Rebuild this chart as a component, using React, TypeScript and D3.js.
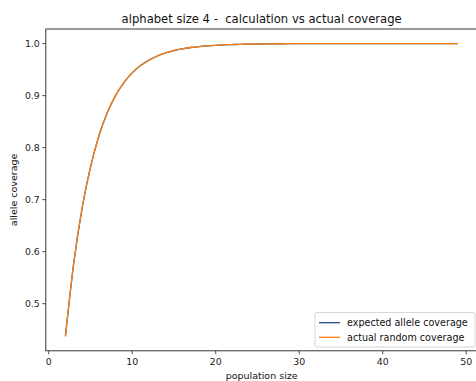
import React from "react";
import * as d3 from "d3";

// population sizes 2..49
const popSizes = [
  2, 3, 4, 5, 6, 7, 8, 9, 10, 11, 12, 13, 14, 15, 16, 17, 18, 19, 20, 21, 22, 23, 24, 25,
  26, 27, 28, 29, 30, 31, 32, 33, 34, 35, 36, 37, 38, 39, 40, 41, 42, 43, 44, 45, 46, 47, 48, 49,
];

const expectedCoverage = [
  0.4375, 0.5781, 0.6836, 0.7627, 0.822, 0.8665, 0.8999, 0.9249, 0.9437, 0.9578, 0.9683,
  0.9762, 0.9822, 0.9866, 0.99, 0.9925, 0.9944, 0.9958, 0.9968, 0.9976, 0.9982, 0.9987,
  0.999, 0.9992, 0.9994, 0.9996, 0.9997, 0.9998, 0.9998, 0.9999, 0.9999, 0.9999, 0.9999,
  1.0, 1.0, 1.0, 1.0, 1.0, 1.0, 1.0, 1.0, 1.0, 1.0, 1.0, 1.0, 1.0, 1.0, 1.0,
];

const actualCoverage = [
  0.437, 0.579, 0.684, 0.762, 0.822, 0.867, 0.9, 0.925, 0.944, 0.958, 0.968,
  0.976, 0.982, 0.987, 0.99, 0.9925, 0.9944, 0.9958, 0.9968, 0.9976, 0.9982, 0.9987,
  0.999, 0.9992, 0.9994, 0.9996, 0.9997, 0.9998, 0.9998, 0.9999, 0.9999, 0.9999, 0.9999,
  1.0, 1.0, 1.0, 1.0, 1.0, 1.0, 1.0, 1.0, 1.0, 1.0, 1.0, 1.0, 1.0, 1.0, 1.0,
];

const xTicks = [0, 10, 20, 30, 40, 50];
const yTicks = [0.5, 0.6, 0.7, 0.8, 0.9, 1.0];
const seriesNames = ["expected allele coverage", "actual random coverage"];
const seriesColors = ["#1f4f8f", "#ff7f0e"];

export default function App() {
  const w = 476;
  const h = 381;
  const left = 45.8;
  const right = 477.5;
  const top = 29;
  const bottom = 350.8;
  const font = "'DejaVu Sans', sans-serif";

  const xScale = d3.scaleLinear().domain([-0.35, 51.35]).range([left, right]);
  const yScale = d3.scaleLinear().domain([0.4094, 1.0281]).range([bottom, top]);

  const line = d3
    .line<number>()
    .x((_, i) => xScale(popSizes[i]))
    .y((d) => yScale(d))
    .curve(d3.curveMonotoneX);

  const series = [expectedCoverage, actualCoverage];

  return (
    <svg
      width={w}
      height={h}
      style={{ position: "absolute", left: 0, top: 0, background: "#fff" }}
      fontFamily={font}
    >
      {/* lines */}
      {series.map((s, i) => (
        <path key={i} d={line(s) ?? ""} fill="none" stroke={seriesColors[i]} strokeWidth={1.3} />
      ))}

      {/* spines */}
      <rect x={left} y={top} width={right - left} height={bottom - top} fill="none" stroke="#222" strokeWidth={0.9} />

      {/* x axis */}
      {xTicks.map((t) => (
        <g key={t} transform={`translate(${xScale(t)},${bottom})`}>
          <line y2={3.5} stroke="#222" strokeWidth={0.8} />
          <text y={14.5} textAnchor="middle" fontSize={9.4} fill="#222">
            {t}
          </text>
        </g>
      ))}

      {/* y axis */}
      {yTicks.map((t) => (
        <g key={t} transform={`translate(${left},${yScale(t)})`}>
          <line x2={-3.5} stroke="#222" strokeWidth={0.8} />
          <text x={-6} dy="0.35em" textAnchor="end" fontSize={9.4} fill="#222">
            {d3.format(".1f")(t)}
          </text>
        </g>
      ))}

      {/* labels */}
      <text
        x={(left + right) / 2}
        y={23}
        textAnchor="middle"
        fontSize={11.6}
        fill="#111"
        style={{ whiteSpace: "pre" }}
      >
        {"alphabet size 4 -  calculation vs actual coverage"}
      </text>
      <text x={(left + right) / 2} y={379} textAnchor="middle" fontSize={9.5} fill="#111">
        population size
      </text>
      <text
        transform={`translate(17,${(top + bottom) / 2}) rotate(-90)`}
        textAnchor="middle"
        fontSize={9.5}
        fill="#111"
      >
        allele coverage
      </text>

      {/* legend */}
      <g transform="translate(315,312.5)">
        <rect width={160} height={34.5} rx={2} fill="#fff" fillOpacity={0.8} stroke="#ccc" strokeWidth={0.8} />
        {seriesNames.map((name, i) => (
          <g key={name} transform={`translate(0,${10.2 + i * 14.6})`}>
            <line x1={4} x2={25} stroke={seriesColors[i]} strokeWidth={1.3} />
            <text x={32} dy="0.35em" fontSize={9.6} fill="#111">
              {name}
            </text>
          </g>
        ))}
      </g>
    </svg>
  );
}
